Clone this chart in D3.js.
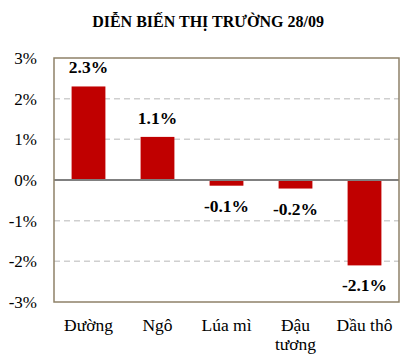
<!DOCTYPE html>
<html>
<head>
<meta charset="utf-8">
<script src="https://d3js.org/d3.v7.min.js"></script>
<style>
  body { margin: 0; background: #fff; }
</style>
</head>
<body>
<div id="chart"></div>
<script>
// data
var categories = ["Đường", "Ngô", "Lúa mì", "Đậu tương", "Dầu thô"];
var changes = [2.3, 1.06, -0.14, -0.21, -2.1];
var valueLabels = ["2.3%", "1.1%", "-0.1%", "-0.2%", "-2.1%"];
var yTicks = [3, 2, 1, 0, -1, -2, -3];

var serif = "Liberation Serif, DejaVu Serif, serif";
var width = 417, height = 361;
var margin = {top: 58, right: 18, bottom: 59, left: 54};

var svg = d3.select("#chart").append("svg")
    .attr("width", width)
    .attr("height", height)
    .attr("font-family", serif);

var x = d3.scaleBand()
    .domain(categories)
    .range([margin.left, width - margin.right])
    .paddingInner(0.51)
    .paddingOuter(0.255);

var y = d3.scaleLinear()
    .domain([-3, 3])
    .range([height - margin.bottom, margin.top]);

// dashed gridlines
svg.append("g")
    .selectAll("line")
    .data(yTicks.filter(function(d) { return d !== 0 && Math.abs(d) !== 3; }))
    .join("line")
    .attr("x1", margin.left)
    .attr("x2", width - margin.right)
    .attr("y1", function(d) { return y(d); })
    .attr("y2", function(d) { return y(d); })
    .attr("stroke", "#cfcfcf")
    .attr("stroke-width", 1.5)
    .attr("stroke-dasharray", "6,4");

// y axis labels
var yAxis = d3.axisLeft(y)
    .tickValues(yTicks)
    .tickSize(0)
    .tickPadding(17)
    .tickFormat(function(d) { return d + "%"; });

svg.append("g")
    .attr("transform", "translate(" + margin.left + ",0)")
    .call(yAxis)
    .attr("font-family", serif)
    .attr("font-size", 17)
    .call(function(g) { g.select(".domain").remove(); })
    .selectAll("text")
    .attr("fill", "#000");

// bars
svg.append("g")
    .selectAll("rect")
    .data(changes)
    .join("rect")
    .attr("x", function(d, i) { return x(categories[i]); })
    .attr("width", x.bandwidth())
    .attr("y", function(d) { return y(Math.max(0, d)); })
    .attr("height", function(d) { return Math.abs(y(d) - y(0)); })
    .attr("fill", "#c00000");

// zero line
svg.append("line")
    .attr("x1", margin.left)
    .attr("x2", width - margin.right)
    .attr("y1", y(0))
    .attr("y2", y(0))
    .attr("stroke", "#808080")
    .attr("stroke-width", 2);

// plot border
svg.append("rect")
    .attr("x", margin.left)
    .attr("y", margin.top)
    .attr("width", width - margin.left - margin.right)
    .attr("height", height - margin.top - margin.bottom)
    .attr("fill", "none")
    .attr("stroke", "#8e8168")
    .attr("stroke-width", 1.5);

// value labels
svg.append("g")
    .selectAll("text")
    .data(changes)
    .join("text")
    .attr("x", function(d, i) { return x(categories[i]) + x.bandwidth() / 2; })
    .attr("y", function(d) { return d >= 0 ? y(d) - 13 : y(d) + 26; })
    .attr("text-anchor", "middle")
    .attr("font-size", 17.5)
    .attr("font-weight", "bold")
    .text(function(d, i) { return valueLabels[i]; });

// category labels (wrapped where needed)
var catLines = {"Đậu tương": ["Đậu", "tương"]};
var cat = svg.append("g")
    .selectAll("text")
    .data(categories)
    .join("text")
    .attr("x", function(d) { return x(d) + x.bandwidth() / 2; })
    .attr("y", 331)
    .attr("text-anchor", "middle")
    .attr("font-size", 17.5);

cat.each(function(d) {
    var lines = catLines[d] || [d];
    d3.select(this).selectAll("tspan")
        .data(lines)
        .join("tspan")
        .attr("x", x(d) + x.bandwidth() / 2)
        .attr("dy", function(l, i) { return i === 0 ? 0 : 19; })
        .text(function(l) { return l; });
});

// title
svg.append("text")
    .attr("x", 208)
    .attr("y", 27)
    .attr("text-anchor", "middle")
    .attr("font-size", 16)
    .attr("font-weight", "bold")
    .text("DIỄN BIẾN THỊ TRƯỜNG 28/09");
</script>
</body>
</html>
